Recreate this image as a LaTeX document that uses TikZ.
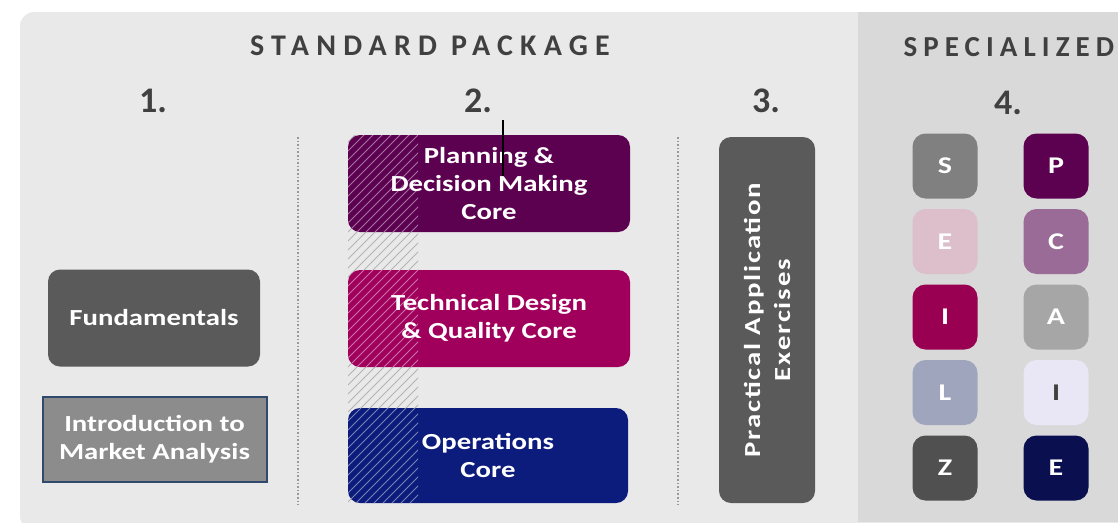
\documentclass[tikz,border=0pt]{standalone}
\usepackage{fontspec}
\setmainfont{Carlito}[FakeStretch=1.25]
\newfontfamily\numfont{Carlito}
\newfontfamily\spacedfont{Carlito}[LetterSpace=24]
\newfontfamily\specfont{Carlito}[LetterSpace=21]
\newfontfamily\widefont{Carlito}[LetterSpace=8,FakeStretch=1.25]
\definecolor{bgstd}{HTML}{E9E9E9}
\definecolor{bgspec}{HTML}{D9D9D9}
\definecolor{headgray}{HTML}{404040}
\definecolor{darkgray}{HTML}{5A5A5A}
\definecolor{midgray}{HTML}{8C8C8C}
\definecolor{introblue}{HTML}{2F4A6C}
\definecolor{plum}{HTML}{5C0050}
\definecolor{magenta}{HTML}{A0005C}
\definecolor{navy}{HTML}{0C1C7C}
\definecolor{hatchgray}{HTML}{B4B4B4}
\definecolor{sqgray}{HTML}{808080}
\definecolor{sqpink}{HTML}{DCBFCB}
\definecolor{sqberry}{HTML}{9A0052}
\definecolor{sqslate}{HTML}{9FA5BD}
\definecolor{sqdark}{HTML}{505050}
\definecolor{sqmauve}{HTML}{9A6B96}
\definecolor{sqsilver}{HTML}{A6A6A6}
\definecolor{sqlavender}{HTML}{E9E6F5}
\definecolor{sqnight}{HTML}{0A0F50}

\begin{document}
\begin{tikzpicture}[x=1pt,y=-1pt,
    head/.style={text=headgray, font=\spacedfont\bfseries\fontsize{30}{30}\selectfont},
    num/.style={text=headgray, font=\numfont\bfseries\fontsize{36}{36}\selectfont},
    block/.style={rounded corners=12pt, inner sep=0pt, text=white, align=center,
        font=\bfseries\fontsize{23}{28}\selectfont},
    letter/.style={rounded corners=13pt, inner sep=0pt, minimum width=65pt, minimum height=65pt,
        font=\bfseries\fontsize{24}{24}\selectfont},
    sep/.style={gray!80, dotted, line width=1.6pt}]
    \useasboundingbox (0,0) rectangle (1118,522);
    % backgrounds
    \fill[bgstd, rounded corners=14pt] (20,12) rectangle (1140,530);
    \fill[bgspec] (858,12) rectangle (1118,522);

    % headings
    \node[head] (std) at (430,46) {STANDARD PACKAGE};
    \node[head, font=\specfont\bfseries\fontsize{29}{29}\selectfont, anchor=west] (spec) at (900,47) {SPECIALIZED};
    \node[num] (n1) at (153,101) {1.};
    \node[num] (n2) at (478,101) {2.};
    \node[num] (n3) at (766,101) {3.};
    \node[num] (n4) at (1008,103) {4.};

    % dotted separators
    \coordinate (s1a) at (298,137);
    \coordinate (s1b) at (298,505);
    \coordinate (s2a) at (678,137);
    \coordinate (s2b) at (678,505);
    \draw[sep] (s1a) -- (s1b);
    \draw[sep] (s2a) -- (s2b);

    % column 1
    \node[block, fill=darkgray, minimum width=212pt, minimum height=97pt] (fund) at (154,318) {Fundamentals};
    \node[block, rounded corners=0pt, fill=midgray, draw=introblue, line width=2pt,
        minimum width=224pt, minimum height=85pt] (intro) at (154.5,439) {Introduction to\\Market Analysis};

    % column 2: hatch strip behind the cores
    \begin{scope}
        \clip (348,135) rectangle (418,503);
        \foreach \k in {0,...,52}
            \draw[hatchgray, line width=1pt] (-40+9*\k,503) -- ++(380,-380);
    \end{scope}
    \node[block, fill=plum, minimum width=282pt, minimum height=97pt] (plan) at (489,183.5) {Planning \&\\Decision Making\\Core};
    \node[block, fill=magenta, minimum width=282pt, minimum height=97pt] (tech) at (489,318.5) {Technical Design\\\& Quality Core};
    \node[block, fill=navy, minimum width=280pt, minimum height=95pt] (oper) at (488,455.5) {Operations\\Core};
    \foreach \ya/\yb in {135/232, 270/367, 408/503} {
        \begin{scope}
            \clip[rounded corners=12pt] (348,\ya) rectangle (630,\yb);
            \clip (348,\ya) rectangle (418,\yb);
            \foreach \k in {0,...,52}
                \draw[white, opacity=0.45, line width=1pt] (-40+9*\k,503) -- ++(380,-380);
        \end{scope}
    }
    \coordinate (tickA) at (503,120);
    \coordinate (tickB) at (503,176);
    \draw[black, line width=1.6pt] (tickA) -- (tickB);

    % column 3
    \node[block, fill=darkgray, rotate=90, minimum width=366pt, minimum height=96pt,
        font=\widefont\bfseries\fontsize{23}{30}\selectfont] (pract) at (767,320) {Practical Application\\Exercises};

    % column 4
    \foreach \name/\col/\tc/\txt [count=\i] in {sS/sqgray/white/S, sE/sqpink/white/E, sI/sqberry/white/I, sL/sqslate/white/L, sZ/sqdark/white/Z}
        \node[letter, fill=\col, text=\tc] (\name) at (945,{166+75.5*(\i-1)}) {\txt};
    \foreach \name/\col/\tc/\txt [count=\i] in {sP/plum/white/P, sC/sqmauve/white/C, sA/sqsilver/white/A, sII/sqlavender/headgray/I, sEE/sqnight/white/E}
        \node[letter, fill=\col, text=\tc] (\name) at (1056,{166+75.5*(\i-1)}) {\txt};
\end{tikzpicture}
\end{document}
